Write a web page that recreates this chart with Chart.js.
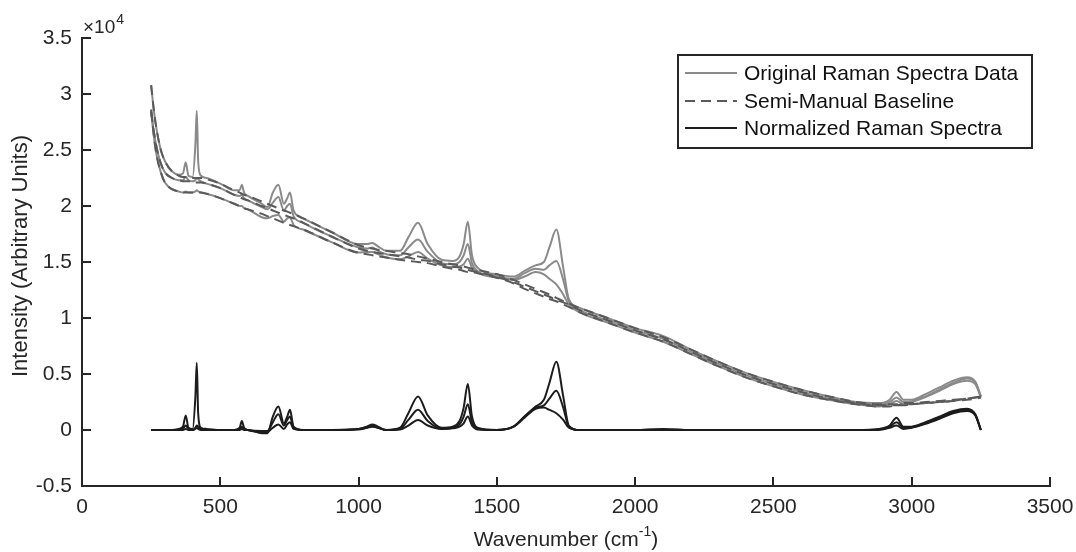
<!DOCTYPE html>
<html>
<head>
<meta charset="utf-8">
<script src="https://cdn.jsdelivr.net/npm/chart.js@4"></script>
<style>
  html, body { margin: 0; padding: 0; background: #fff; }
  #wrap { width: 1076px; height: 552px; }
</style>
</head>
<body>
<div id="wrap"><canvas id="grafico"></canvas></div>
<script>
// wavenumber grid (cm^-1), shared by all series
const wavenumbers = [250,260,270,285,300,325,350,365,375,385,
  400,410,415,420,430,450,500,550,570,578,
  586,600,650,670,690,710,730,742,752,765,
  800,900,1000,1030,1050,1070,1100,1150,1180,1215,
  1250,1300,1340,1365,1380,1395,1410,1430,1500,1560,
  1600,1640,1670,1690,1715,1740,1760,1800,1900,2000,
  2100,2200,2300,2400,2500,2600,2700,2800,2880,2920,
  2945,2970,3000,3050,3100,3150,3200,3230,3250];

// intensities in units of 10^4
const original1 = [3.08,2.85,2.68,2.50,2.40,2.31,2.28,2.29,2.39,2.27,
  2.26,2.55,2.85,2.40,2.27,2.25,2.20,2.14,2.14,2.19,
  2.12,2.09,2.02,1.99,2.12,2.19,2.02,2.07,2.12,1.96,
  1.89,1.77,1.66,1.66,1.67,1.64,1.60,1.60,1.72,1.85,
  1.66,1.52,1.51,1.55,1.66,1.86,1.56,1.45,1.39,1.37,
  1.42,1.47,1.50,1.63,1.79,1.45,1.17,1.09,1.00,0.91,
  0.84,0.72,0.61,0.51,0.43,0.36,0.30,0.25,0.24,0.27,
  0.34,0.27,0.27,0.32,0.38,0.44,0.47,0.43,0.30];
const original2 = [2.84,2.66,2.52,2.38,2.30,2.25,2.23,2.23,2.26,2.23,
  2.22,2.23,2.25,2.24,2.22,2.20,2.16,2.10,2.09,2.10,
  2.07,2.05,1.99,1.97,2.03,2.08,1.96,2.00,2.02,1.91,
  1.85,1.73,1.63,1.62,1.63,1.60,1.57,1.56,1.63,1.70,
  1.59,1.49,1.48,1.50,1.56,1.66,1.49,1.42,1.37,1.35,
  1.40,1.44,1.43,1.47,1.51,1.34,1.15,1.07,0.98,0.89,
  0.815,0.70,0.59,0.49,0.41,0.34,0.28,0.24,0.225,0.25,
  0.29,0.25,0.255,0.30,0.36,0.42,0.46,0.425,0.30];
const original3 = [2.86,2.62,2.45,2.30,2.21,2.15,2.13,2.12,2.13,2.12,
  2.12,2.13,2.14,2.13,2.12,2.11,2.07,2.02,2.00,2.00,
  1.98,1.97,1.90,1.89,1.91,1.92,1.86,1.89,1.90,1.83,
  1.79,1.68,1.585,1.59,1.59,1.57,1.54,1.525,1.55,1.59,
  1.53,1.47,1.455,1.46,1.48,1.53,1.45,1.405,1.36,1.34,
  1.37,1.41,1.39,1.35,1.30,1.21,1.12,1.05,0.96,0.87,
  0.79,0.68,0.57,0.47,0.39,0.32,0.27,0.23,0.21,0.23,
  0.26,0.23,0.25,0.295,0.35,0.41,0.44,0.41,0.29];

const baseline1 = [3.08,2.85,2.68,2.50,2.40,2.31,2.27,2.26,2.26,2.25,
  2.25,2.25,2.25,2.25,2.25,2.24,2.20,2.14,2.12,2.11,
  2.10,2.09,2.04,2.02,2.00,1.98,1.96,1.95,1.94,1.93,
  1.89,1.77,1.65,1.63,1.62,1.61,1.60,1.58,1.57,1.55,
  1.53,1.50,1.48,1.47,1.46,1.45,1.44,1.43,1.39,1.34,
  1.30,1.26,1.23,1.21,1.18,1.15,1.13,1.09,1.00,0.91,
  0.83,0.72,0.61,0.51,0.43,0.36,0.30,0.25,0.23,0.23,
  0.23,0.24,0.24,0.25,0.26,0.27,0.28,0.29,0.30];
const baseline2 = [2.84,2.66,2.52,2.38,2.30,2.25,2.23,2.22,2.22,2.22,
  2.22,2.21,2.21,2.21,2.21,2.20,2.16,2.10,2.08,2.07,
  2.06,2.05,2.00,1.98,1.96,1.94,1.92,1.91,1.90,1.89,
  1.85,1.73,1.62,1.60,1.59,1.58,1.57,1.55,1.54,1.52,
  1.51,1.48,1.46,1.45,1.44,1.43,1.42,1.41,1.37,1.32,
  1.28,1.24,1.21,1.19,1.16,1.14,1.12,1.07,0.98,0.89,
  0.81,0.70,0.59,0.49,0.41,0.34,0.28,0.24,0.22,0.22,
  0.22,0.23,0.23,0.24,0.25,0.26,0.28,0.29,0.30];
const baseline3 = [2.86,2.62,2.45,2.30,2.21,2.15,2.13,2.12,2.12,2.12,
  2.12,2.12,2.12,2.12,2.12,2.11,2.07,2.02,2.00,1.99,
  1.98,1.97,1.93,1.91,1.89,1.87,1.85,1.84,1.83,1.82,
  1.79,1.68,1.58,1.57,1.56,1.55,1.54,1.52,1.51,1.50,
  1.49,1.46,1.44,1.43,1.42,1.41,1.41,1.40,1.36,1.31,
  1.26,1.22,1.19,1.17,1.15,1.12,1.10,1.05,0.96,0.87,
  0.79,0.68,0.57,0.47,0.39,0.32,0.27,0.23,0.21,0.21,
  0.22,0.22,0.23,0.24,0.25,0.26,0.27,0.28,0.29];

const normalized1 = [0,0,0,0,0,0,0.01,0.03,0.13,0.02,
  0.01,0.30,0.60,0.15,0.02,0.01,0,0,0.02,0.08,
  0.02,0,-0.02,-0.03,0.12,0.21,0.06,0.12,0.18,0.03,
  0,0,0.01,0.03,0.05,0.03,0,0.02,0.15,0.30,
  0.13,0.02,0.03,0.08,0.20,0.41,0.12,0.02,0,0.03,
  0.12,0.21,0.27,0.42,0.61,0.30,0.04,0,0,0,
  0.01,0,0,0,0,0,0,0,0.01,0.04,
  0.11,0.03,0.03,0.07,0.12,0.17,0.19,0.14,0];
const normalized2 = [0,0,0,0,0,0,0,0.01,0.04,0.01,
  0,0.02,0.04,0.03,0.01,0,0,0,0.01,0.03,
  0.01,0,-0.01,-0.01,0.07,0.14,0.04,0.09,0.12,0.02,
  0,0,0.01,0.02,0.04,0.02,0,0.01,0.09,0.18,
  0.08,0.01,0.02,0.05,0.12,0.23,0.07,0.01,0,0.03,
  0.12,0.20,0.22,0.28,0.35,0.20,0.03,0,0,0,
  0.005,0,0,0,0,0,0,0,0.005,0.03,
  0.07,0.02,0.025,0.06,0.11,0.16,0.18,0.135,0];
const normalized3 = [0,0,0,0,0,0,0,0,0.01,0,
  0,0.01,0.02,0.01,0,0,0,0,0,0.01,
  0,0,-0.03,-0.02,0.02,0.05,0.01,0.05,0.07,0.01,
  0,0,0.005,0.02,0.03,0.02,0,0.005,0.04,0.09,
  0.04,0.01,0.015,0.03,0.06,0.12,0.04,0.005,0,0.03,
  0.11,0.19,0.20,0.18,0.15,0.09,0.02,0,0,0,
  0,0,0,0,0,0,0,0,0,0.02,
  0.04,0.01,0.02,0.055,0.10,0.15,0.17,0.13,0];

const legendLabels = ['Original Raman Spectra Data', 'Semi-Manual Baseline', 'Normalized Raman Spectra'];

const corOriginal = '#8a8a8a';
const corBaseline = '#5a5a5a';
const corNormal = '#1c1c1c';
const fonte = '"Liberation Sans", Arial, sans-serif';

function pontos(ys) {
  return wavenumbers.map((x, i) => ({ x: x, y: ys[i] }));
}

function serie(label, ys, cor, tracejado, ordem) {
  return {
    label: label,
    data: pontos(ys),
    borderColor: cor,
    borderWidth: 2,
    borderDash: tracejado ? [10, 6] : [],
    pointRadius: 0,
    cubicInterpolationMode: 'monotone',
    fill: false,
    order: ordem
  };
}

// inward tick marks, MATLAB style
const ticksInternos = {
  id: 'ticksInternos',
  afterDraw(chart) {
    const ctx = chart.ctx;
    const a = chart.chartArea;
    const sx = chart.scales.x, sy = chart.scales.y;
    ctx.save();
    ctx.strokeStyle = '#262626';
    ctx.lineWidth = 2;
    ctx.beginPath();
    sx.ticks.forEach(t => {
      const px = Math.round(sx.getPixelForValue(t.value));
      ctx.moveTo(px, a.bottom);
      ctx.lineTo(px, a.bottom - 9);
    });
    sy.ticks.forEach(t => {
      const py = Math.round(sy.getPixelForValue(t.value));
      ctx.moveTo(a.left, py);
      ctx.lineTo(a.left + 9, py);
    });
    ctx.stroke();
    ctx.restore();
  }
};

// titles, exponent label and boxed legend
const textos = {
  id: 'textos',
  afterDraw(chart) {
    const ctx = chart.ctx;
    const a = chart.chartArea;
    ctx.save();
    ctx.fillStyle = '#262626';

    // ×10^4
    ctx.textAlign = 'left';
    ctx.textBaseline = 'alphabetic';
    ctx.font = '19px ' + fonte;
    ctx.fillText('\u00d710', a.left + 1, 33);
    const w10 = ctx.measureText('\u00d710').width;
    ctx.font = '14px ' + fonte;
    ctx.fillText('4', a.left + 2 + w10, 24);

    // x title with superscript
    const p1 = 'Wavenumber (cm', p3 = ')';
    ctx.font = '14px ' + fonte;
    const w2 = ctx.measureText('-1').width;
    ctx.font = '21px ' + fonte;
    const w1 = ctx.measureText(p1).width, w3 = ctx.measureText(p3).width;
    const x0 = (a.left + a.right) / 2 - (w1 + w2 + w3) / 2;
    const yb = 546;
    ctx.fillText(p1, x0, yb);
    ctx.font = '14px ' + fonte;
    ctx.fillText('-1', x0 + w1, yb - 10);
    ctx.font = '21px ' + fonte;
    ctx.fillText(p3, x0 + w1 + w2, yb);

    // y title
    ctx.save();
    ctx.font = '22px ' + fonte;
    ctx.translate(27, (a.top + a.bottom) / 2 - 6);
    ctx.rotate(-Math.PI / 2);
    ctx.textAlign = 'center';
    ctx.fillText('Intensity (Arbitrary Units)', 0, 0);
    ctx.restore();

    // legend
    const bx = 678, by = 55, bw = 354, bh = 93;
    ctx.fillStyle = '#fff';
    ctx.fillRect(bx, by, bw, bh);
    ctx.strokeStyle = '#262626';
    ctx.lineWidth = 2;
    ctx.strokeRect(bx, by, bw, bh);
    const cores = [corOriginal, corBaseline, corNormal];
    const linhas = [73, 101, 128];
    ctx.font = '21px ' + fonte;
    ctx.textAlign = 'left';
    ctx.textBaseline = 'middle';
    legendLabels.forEach((txt, i) => {
      ctx.strokeStyle = cores[i];
      ctx.lineWidth = 2;
      ctx.setLineDash(i === 1 ? [10, 6] : []);
      ctx.beginPath();
      ctx.moveTo(685, linhas[i]);
      ctx.lineTo(737, linhas[i]);
      ctx.stroke();
      ctx.setLineDash([]);
      ctx.fillStyle = '#111';
      ctx.fillText(txt, 744, linhas[i] + 1);
    });
    ctx.restore();
  }
};

const ctxGrafico = document.getElementById('grafico').getContext('2d');

new Chart(ctxGrafico, {
  type: 'line',
  data: {
    datasets: [
      serie(legendLabels[0], original1, corOriginal, false, 3),
      serie(legendLabels[0], original2, corOriginal, false, 3),
      serie(legendLabels[0], original3, corOriginal, false, 3),
      serie(legendLabels[1], baseline1, corBaseline, true, 2),
      serie(legendLabels[1], baseline2, corBaseline, true, 2),
      serie(legendLabels[1], baseline3, corBaseline, true, 2),
      serie(legendLabels[2], normalized1, corNormal, false, 1),
      serie(legendLabels[2], normalized2, corNormal, false, 1),
      serie(legendLabels[2], normalized3, corNormal, false, 1)
    ]
  },
  options: {
    responsive: true,
    maintainAspectRatio: false,
    animation: false,
    layout: { padding: { left: 0, top: 38, right: 26, bottom: 0 } },
    plugins: {
      legend: { display: false },
      tooltip: { enabled: false },
      title: { display: false }
    },
    scales: {
      x: {
        type: 'linear',
        min: 0,
        max: 3500,
        afterFit(scale) {
          scale.height = 66;
          scale.paddingLeft = 0;
          scale.paddingRight = 0;
        },
        ticks: {
          stepSize: 500,
          padding: 9,
          color: '#262626',
          font: { family: fonte, size: 21 },
          maxRotation: 0,
          callback: v => String(v)
        },
        grid: { drawOnChartArea: false, drawTicks: false },
        border: { color: '#262626', width: 2 }
      },
      y: {
        type: 'linear',
        min: -0.5,
        max: 3.5,
        afterFit(scale) {
          scale.width = 82;
          scale.paddingTop = 0;
          scale.paddingBottom = 0;
        },
        ticks: {
          stepSize: 0.5,
          padding: 10,
          color: '#262626',
          font: { family: fonte, size: 21 },
          callback: v => String(Math.round(v * 10) / 10)
        },
        grid: { drawOnChartArea: false, drawTicks: false },
        border: { color: '#262626', width: 2 }
      }
    }
  },
  plugins: [ticksInternos, textos]
});
</script>
</body>
</html>
